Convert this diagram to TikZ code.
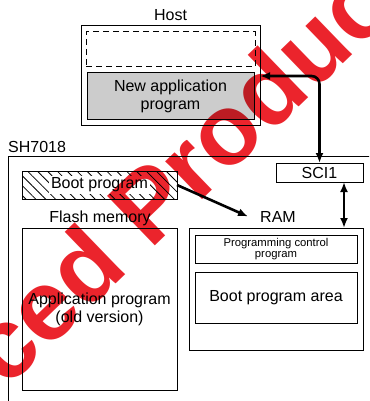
\documentclass[tikz,border=0pt]{standalone}
\usepackage{fontspec}
\setmainfont{Liberation Sans}
\usetikzlibrary{arrows.meta, calc, patterns.meta, positioning}

\definecolor{stamp}{RGB}{235,36,44}
\definecolor{hostgray}{RGB}{204,204,204}

\begin{document}
\begin{tikzpicture}[x=1pt, y=-1pt, >={Latex[length=10pt,width=8pt]},
    box/.style={draw, line width=1pt, inner sep=0pt, outer sep=0pt, align=center, font=\fontsize{16}{18}\selectfont},
    lbl/.style={inner sep=0pt, font=\fontsize{16}{18}\selectfont},
    link/.style={line width=2.6pt}]
    \useasboundingbox (0,0) rectangle (369,401);
    \clip (0,0) rectangle (369,401);

    % Host
    \node[box, minimum width=179pt, minimum height=99pt] (host) at (170.5,75.5) {};
    \node[lbl] (hostlbl) at (170.5,15.5) {Host};
    \node[box, dash pattern=on 6pt off 4pt, minimum width=169pt, minimum height=35pt] (spare) at (170.5,49.5) {};
    \node[box, fill=hostgray, minimum width=167pt, minimum height=46pt] (newapp) at (170.5,96) {New application\\program};

    % SH7018 chip
    \node[box, anchor=north west, minimum width=400pt, minimum height=300pt] (chip) at (8,156) {};
    \node[lbl, anchor=west] (chiplbl) at (8,146.5) {SH7018};
    \node[box, minimum width=87pt, minimum height=19pt] (sci) at (319.5,172.5) {SCI1};
    \node[box, pattern={Lines[angle=-45, distance=7pt, line width=0.8pt]}, minimum width=155pt, minimum height=28pt] (boot) at (99.5,185) {};
    \node[lbl, fill=white, inner sep=2pt] (boottxt) at (boot) {Boot program};

    % Flash memory and RAM
    \node[lbl, anchor=base] (flashlbl) at (100,222) {Flash memory};
    \node[box, minimum width=155pt, minimum height=162pt] (flash) at (99.5,309) {Application program\\(old version)};
    \node[lbl, anchor=base] (ramlbl) at (278,222) {RAM};
    \node[box, minimum width=174pt, minimum height=122pt] (ram) at (276,289) {};
    \node[box, font=\fontsize{11.3}{10.8}\selectfont, minimum width=162pt, minimum height=28pt] (ctrl) at (276,249) {Programming control\\program};
    \node[box, minimum width=162pt, minimum height=51pt] (bootarea) at (276,297.5) {\raisebox{3pt}{Boot program area}};

    % Transfers
    \coordinate (hostin) at ($(host.east |- newapp.north)+(0,3)$);
    \coordinate (ramport) at ($(sci.south)+(24.5,0)$);
    \draw[link, <->, rounded corners=8pt] (hostin) -| (sci.north);
    \draw[link, <->] (ramport) -- (ramport |- ram.north);
    \draw[link, ->] (boot.east) -- ($(ramlbl.west)+(-12,0)$);

    % Stamp
    \begin{scope}[blend mode=multiply]
        \node[rotate=44, anchor=base west, inner sep=0pt, text=stamp, font=\fontsize{100}{100}\selectfont\bfseries] (stampmark) at (6,390) {ced Product};
    \end{scope}
\end{tikzpicture}
\end{document}
